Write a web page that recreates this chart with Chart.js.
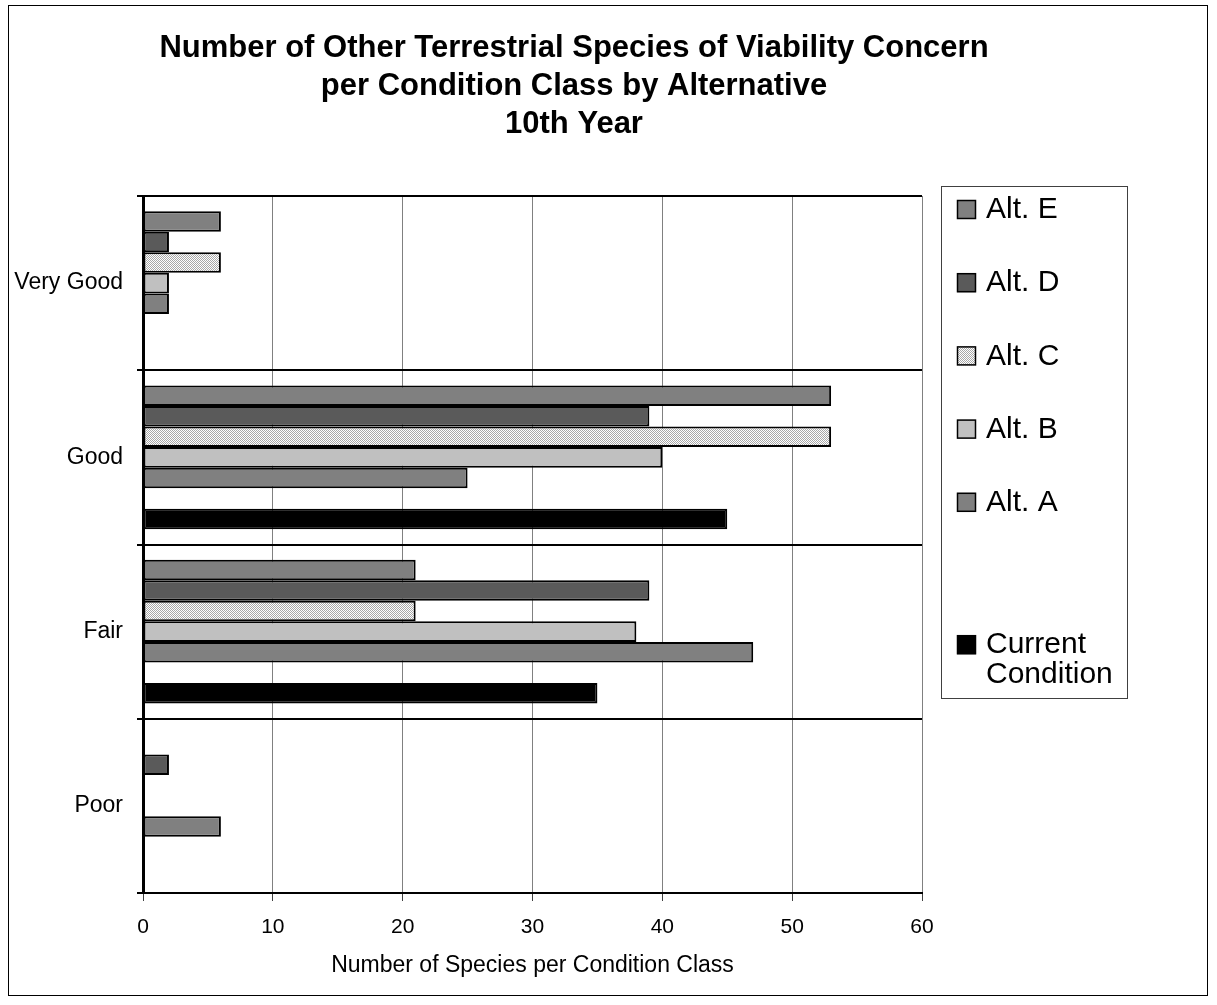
<!DOCTYPE html>
<html>
<head>
<meta charset="utf-8">
<script src="https://cdn.jsdelivr.net/npm/chart.js@4.4.1/dist/chart.umd.min.js"></script>
<style>
  html, body { margin: 0; padding: 0; background: #ffffff; }
  #wrap { position: absolute; left: 0; top: 0; width: 1217px; height: 1005px; }
</style>
</head>
<body>
<div id="wrap"><canvas id="c" width="1217" height="1005"></canvas></div>
<script>
// Condition classes (top to bottom) and species counts per alternative
const conditionClasses = ['Very Good', 'Good', 'Fair', 'Poor'];
const altE = [6, 53, 21, 0];
const altD = [2, 39, 39, 2];
const altC = [6, 53, 21, 0];
const altB = [2, 40, 38, 0];
const altA = [2, 25, 47, 6];
const spacer = [null, null, null, null];
const currentCondition = [0, 45, 35, 0];

const seriesLabels = ['Alt. E', 'Alt. D', 'Alt. C', 'Alt. B', 'Alt. A', '', 'Current Condition'];
const xTickValues = [0, 10, 20, 30, 40, 50, 60];

const titleLines = [
  'Number of Other Terrestrial Species of Viability Concern',
  'per Condition Class by Alternative',
  '10th Year'
];
const xAxisTitle = 'Number of Species per Condition Class';

const FONT = "'Liberation Sans', Arial, Helvetica, sans-serif";
Chart.defaults.font.family = FONT;
Chart.defaults.color = '#000';

// fine dotted fill for Alt. C
function dottedPattern() {
  const t = document.createElement('canvas');
  t.width = 2; t.height = 2;
  const g = t.getContext('2d');
  g.fillStyle = '#ffffff'; g.fillRect(0, 0, 2, 2);
  g.fillStyle = '#a8a8a8'; g.fillRect(0, 0, 1, 1); g.fillRect(1, 1, 1, 1);
  return g.createPattern(t, 'repeat');
}

const ctx = document.getElementById('c').getContext('2d');
const fills = ['#808080', '#5a5a5a', dottedPattern(), '#c0c0c0', '#808080', 'rgba(0,0,0,0)', '#000000'];
const seriesData = [altE, altD, altC, altB, altA, spacer, currentCondition];

const datasets = seriesData.map((d, i) => ({
  label: seriesLabels[i],
  data: d,
  backgroundColor: fills[i],
  borderColor: '#000',
  borderWidth: i === 5 ? 0 : 2,
  borderSkipped: false,
  categoryPercentage: 0.825,
  barPercentage: 1.0
}));

// outer frame, title block and boxed legend
const decorations = {
  id: 'decorations',
  afterDraw(chart) {
    const g = chart.ctx;
    g.save();
    // frame
    g.strokeStyle = '#000';
    g.lineWidth = 1;
    g.strokeRect(8.5, 5.5, 1199, 990);

    // title
    g.fillStyle = '#000';
    g.font = 'bold 31px ' + FONT;
    g.textAlign = 'center';
    g.textBaseline = 'middle';
    const ty = [48, 86, 124];
    titleLines.forEach((t, i) => g.fillText(t, 574, ty[i]));

    // legend box
    g.strokeStyle = '#404040';
    g.lineWidth = 1;
    g.strokeRect(941.5, 186.5, 186, 512);
    g.font = '30px ' + FONT;
    g.textAlign = 'left';
    const rowStart = 209, rowStep = 73.2;
    chart.data.datasets.forEach((ds, i) => {
      if (!ds.label) return;
      const cy = rowStart + rowStep * i - (i === 6 ? 4 : 0);
      g.fillStyle = ds.backgroundColor;
      g.fillRect(957, cy - 9, 19, 19);
      g.strokeStyle = '#000';
      g.lineWidth = 1.5;
      g.strokeRect(957.5, cy - 8.5, 18, 18);
      g.fillStyle = '#000';
      const words = ds.label === 'Current Condition' ? ['Current', 'Condition'] : [ds.label];
      words.forEach((w, k) => g.fillText(w, 986, cy + 1 + k * 30));
    });
    g.restore();
  }
};

new Chart(ctx, {
  type: 'bar',
  data: { labels: conditionClasses, datasets },
  options: {
    indexAxis: 'y',
    responsive: false,
    animation: false,
    devicePixelRatio: 1,
    layout: { padding: { top: 196, right: 295, bottom: 0, left: 0 } },
    plugins: {
      legend: { display: false },
      title: { display: false },
      tooltip: { enabled: false }
    },
    scales: {
      x: {
        type: 'linear',
        position: 'bottom',
        min: xTickValues[0],
        max: xTickValues[xTickValues.length - 1],
        afterBuildTicks(s) { s.ticks = xTickValues.map(v => ({ value: v })); },
        ticks: { color: '#000', font: { size: 21 }, padding: 14 },
        grid: { color: '#808080', lineWidth: 1, tickLength: 8, tickColor: '#404040' },
        border: { color: '#000', width: 2 },
        title: { display: true, text: xAxisTitle, color: '#000', font: { size: 23 }, padding: { top: 0, bottom: 26 } },
        afterFit(s) { s.height = 112; }
      },
      y: {
        type: 'category',
        offset: true,
        ticks: { color: '#000', font: { size: 23 }, padding: 14 },
        grid: { color: '#000', lineWidth: 2, tickLength: 6, tickColor: '#000', offset: true },
        border: { color: '#000', width: 3 },
        afterFit(s) { s.width = 143; }
      }
    }
  },
  plugins: [decorations]
});
</script>
</body>
</html>
